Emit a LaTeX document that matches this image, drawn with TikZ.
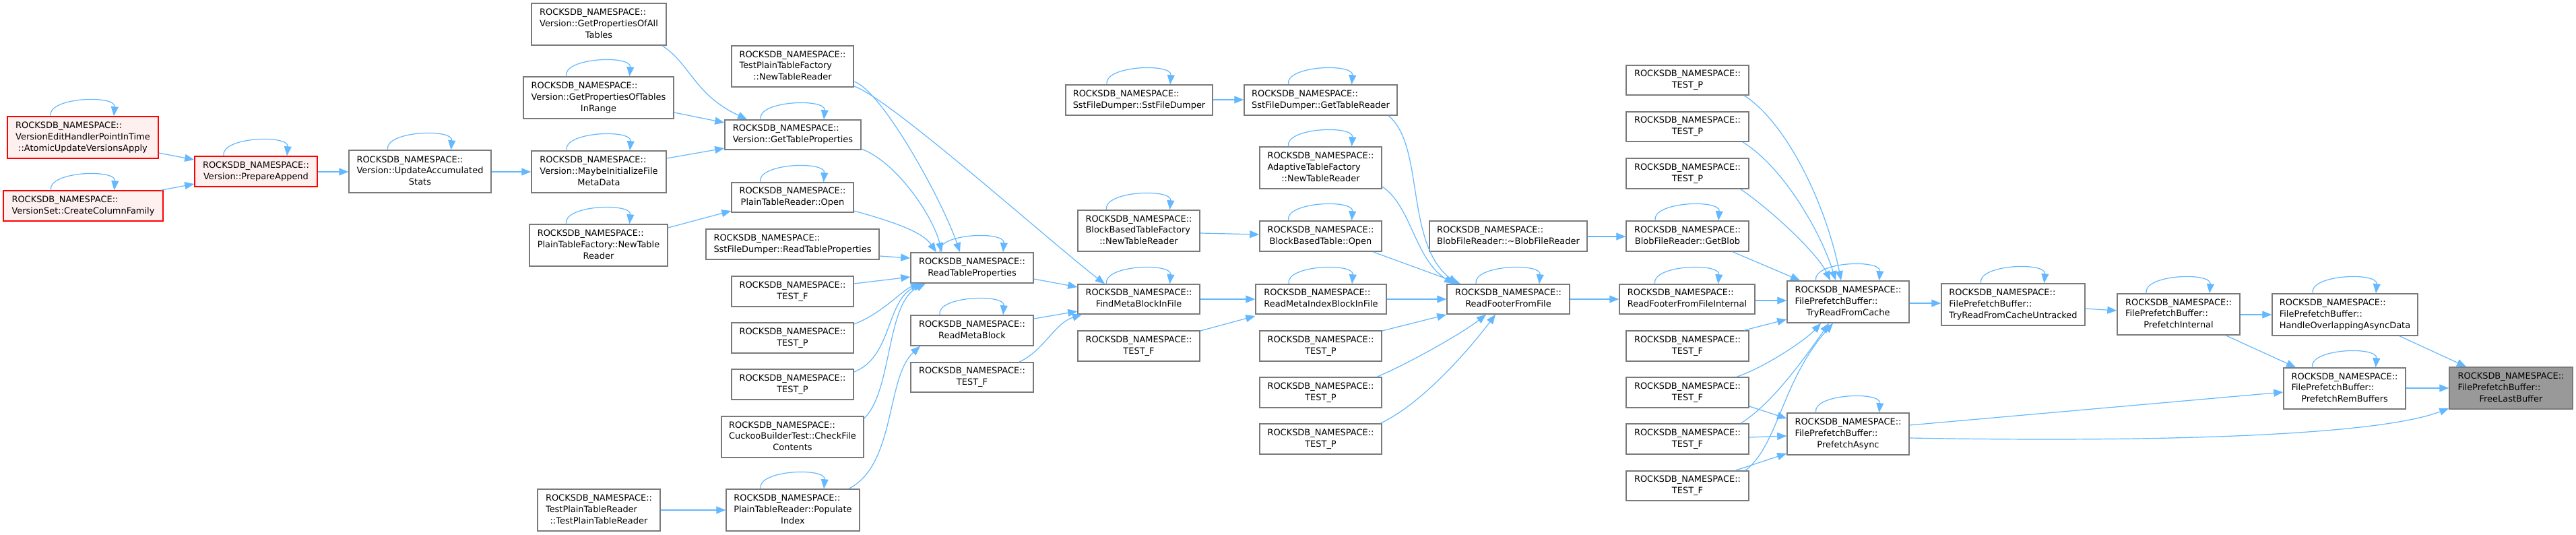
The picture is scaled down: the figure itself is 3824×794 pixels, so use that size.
\documentclass[tikz,border=0pt]{standalone}
\usepackage{fontspec}
\setmainfont{DejaVu Sans}
\usetikzlibrary{arrows.meta}
\definecolor{edgeblue}{HTML}{63B8FF}
\definecolor{boxgrey}{HTML}{7A7A7A}
\definecolor{pinkfill}{HTML}{FFF0F0}
\definecolor{rootgrey}{HTML}{999999}
\newcommand\RN{ROCKSDB\_NAMESPACE::}
\newcommand\twol[2]{\begin{tabular}{@{}l@{}}#1\\\multicolumn{1}{@{}c@{}}{#2}\end{tabular}}
\newcommand\thrl[3]{\begin{tabular}{@{}l@{}}#1\\#2\\\multicolumn{1}{@{}c@{}}{#3}\end{tabular}}
\newcommand\bx[7]{\node[#1, minimum width={(#5-#3)*1pt}, minimum height={(#6-#4)*1pt}] (#2) at ({(#3+#5)/2},{(#4+#6)/2}) {#7};}
\newcommand\sloop[1]{\draw[conn] ([xshift=-48pt]#1.north) .. controls +(-5pt,28pt) and +(3pt,32pt) .. ([xshift=46pt]#1.north);}
\tikzset{
  nbox/.style={draw=boxgrey, fill=white, line width=1.5pt, inner sep=0pt, font=\fontsize{12.95}{16.7}\selectfont},
  rbox/.style={nbox, draw=red, fill=pinkfill},
  gbox/.style={nbox, draw=boxgrey, fill=rootgrey},
  conn/.style={draw=edgeblue, line width=1.2pt, -{Triangle[length=14pt,width=11pt]}}
}
\begin{document}
\begin{tikzpicture}[x=1pt,y=-1pt]
\useasboundingbox[fill=white] (0,0) rectangle (3824,794);
% nodes
\bx{rbox}{veh}{11}{173}{235}{235}{\thrl{\RN}{VersionEditHandlerPointInTime}{::AtomicUpdateVersionsApply}}
\bx{rbox}{ccf}{5}{283}{242}{328}{\twol{\RN}{VersionSet::CreateColumnFamily}}
\bx{rbox}{pa}{289}{232}{471}{277}{\twol{\RN}{Version::PrepareAppend}}
\bx{nbox}{uas}{518}{223}{729}{286}{\thrl{\RN}{Version::UpdateAccumulated}{Stats}}
\bx{nbox}{gpoat}{789}{5}{989}{67}{\thrl{\RN}{Version::GetPropertiesOfAll}{Tables}}
\bx{nbox}{gpotir}{777}{114}{1000}{176}{\thrl{\RN}{Version::GetPropertiesOfTables}{InRange}}
\bx{nbox}{mifmd}{789}{224}{989}{286}{\thrl{\RN}{Version::MaybeInitializeFile}{MetaData}}
\bx{nbox}{ptfntr}{786}{333}{991}{395}{\thrl{\RN}{PlainTableFactory::NewTable}{Reader}}
\bx{nbox}{tptf}{1086}{68}{1267}{129}{\thrl{\RN}{TestPlainTableFactory}{::NewTableReader}}
\bx{nbox}{gtp}{1076}{178}{1278}{222}{\twol{\RN}{Version::GetTableProperties}}
\bx{nbox}{ptro}{1086}{271}{1267}{315}{\twol{\RN}{PlainTableReader::Open}}
\bx{nbox}{sfdrtp}{1048}{340}{1305}{385}{\twol{\RN}{SstFileDumper::ReadTableProperties}}
\bx{nbox}{tf5}{1086}{410}{1267}{455}{\twol{\RN}{TEST\_F}}
\bx{nbox}{tp5a}{1086}{479}{1267}{524}{\twol{\RN}{TEST\_P}}
\bx{nbox}{tp5b}{1086}{548}{1267}{593}{\twol{\RN}{TEST\_P}}
\bx{nbox}{cuckoo}{1071}{618}{1282}{679}{\thrl{\RN}{CuckooBuilderTest::CheckFile}{Contents}}
\bx{nbox}{tptr}{798}{726}{980}{788}{\thrl{\RN}{TestPlainTableReader}{::TestPlainTableReader}}
\bx{nbox}{popidx}{1078}{726}{1276}{788}{\thrl{\RN}{PlainTableReader::Populate}{Index}}
\bx{nbox}{rtp}{1352}{375}{1534}{420}{\twol{\RN}{ReadTableProperties}}
\bx{nbox}{rmb}{1352}{468}{1534}{513}{\twol{\RN}{ReadMetaBlock}}
\bx{nbox}{tf6}{1352}{538}{1534}{582}{\twol{\RN}{TEST\_F}}
\bx{nbox}{sfdsfd}{1582}{126}{1800}{171}{\twol{\RN}{SstFileDumper::SstFileDumper}}
\bx{nbox}{bbtf}{1600}{312}{1781}{373}{\thrl{\RN}{BlockBasedTableFactory}{::NewTableReader}}
\bx{nbox}{fmbif}{1600}{422}{1781}{466}{\twol{\RN}{FindMetaBlockInFile}}
\bx{nbox}{tf7}{1600}{491}{1781}{536}{\twol{\RN}{TEST\_F}}
\bx{nbox}{gtr}{1847}{126}{2074}{171}{\twol{\RN}{SstFileDumper::GetTableReader}}
\bx{nbox}{atf}{1870}{218}{2051}{280}{\thrl{\RN}{AdaptiveTableFactory}{::NewTableReader}}
\bx{nbox}{bbto}{1870}{328}{2051}{373}{\twol{\RN}{BlockBasedTable::Open}}
\bx{nbox}{rmibif}{1864}{422}{2058}{466}{\twol{\RN}{ReadMetaIndexBlockInFile}}
\bx{nbox}{tp8a}{1870}{491}{2051}{536}{\twol{\RN}{TEST\_P}}
\bx{nbox}{tp8b}{1870}{560}{2051}{605}{\twol{\RN}{TEST\_P}}
\bx{nbox}{tp8c}{1870}{629}{2051}{674}{\twol{\RN}{TEST\_P}}
\bx{nbox}{bfrd}{2122}{328}{2356}{373}{\twol{\RN}{BlobFileReader::\textasciitilde BlobFileReader}}
\bx{nbox}{rfff}{2148}{422}{2330}{466}{\twol{\RN}{ReadFooterFromFile}}
\bx{nbox}{tp10a}{2414}{97}{2596}{141}{\twol{\RN}{TEST\_P}}
\bx{nbox}{tp10b}{2414}{166}{2596}{210}{\twol{\RN}{TEST\_P}}
\bx{nbox}{tp10c}{2414}{235}{2596}{280}{\twol{\RN}{TEST\_P}}
\bx{nbox}{gblob}{2414}{328}{2596}{373}{\twol{\RN}{BlobFileReader::GetBlob}}
\bx{nbox}{rfffi}{2404}{422}{2605}{466}{\twol{\RN}{ReadFooterFromFileInternal}}
\bx{nbox}{tf10a}{2414}{491}{2596}{536}{\twol{\RN}{TEST\_F}}
\bx{nbox}{tf10b}{2414}{560}{2596}{605}{\twol{\RN}{TEST\_F}}
\bx{nbox}{tf10c}{2414}{629}{2596}{674}{\twol{\RN}{TEST\_F}}
\bx{nbox}{tf10d}{2414}{699}{2596}{743}{\twol{\RN}{TEST\_F}}
\bx{nbox}{trfc}{2653}{417}{2834}{479}{\thrl{\RN}{FilePrefetchBuffer::}{TryReadFromCache}}
\bx{nbox}{pasync}{2653}{613}{2834}{675}{\thrl{\RN}{FilePrefetchBuffer::}{PrefetchAsync}}
\bx{nbox}{trfcu}{2882}{421}{3095}{483}{\thrl{\RN}{FilePrefetchBuffer::}{TryReadFromCacheUntracked}}
\bx{nbox}{pint}{3143}{436}{3325}{497}{\thrl{\RN}{FilePrefetchBuffer::}{PrefetchInternal}}
\bx{nbox}{hoad}{3373}{436}{3589}{498}{\thrl{\RN}{FilePrefetchBuffer::}{HandleOverlappingAsyncData}}
\bx{nbox}{prb}{3390}{546}{3571}{607}{\thrl{\RN}{FilePrefetchBuffer::}{PrefetchRemBuffers}}
\bx{gbox}{flb}{3636}{545}{3819}{607}{\thrl{\RN}{FilePrefetchBuffer::}{FreeLastBuffer}}
% self loops
\foreach \n in {veh,ccf,pa,uas,gpotir,mifmd,ptfntr,gtp,ptro,popidx,rtp,rmb,sfdsfd,bbtf,fmbif,gtr,atf,bbto,rmibif,rfff,gblob,rfffi,trfc,pasync,trfcu,pint,hoad,prb}{\sloop{\n}}
% edges
\draw[conn] (veh.east |- 0,227) -- (pa.west |- 0,237);
\draw[conn] (ccf.north -| 239,0) -- (pa.west |- 0,273);
\draw[conn] (pa.east |- 0,255) -- (uas.west |- 0,255);
\draw[conn] (uas.east |- 0,255) -- (mifmd.west |- 0,255);
\draw[conn] (mifmd.east |- 0,235) -- (gtp.west |- 0,220);
\draw[conn] (gpoat.south -| 983,0) .. controls (1025,95) and (1030,140) .. (gtp.north -| 1109,0);
\draw[conn] (gpotir.east |- 0,167) -- (gtp.west |- 0,182);
\draw[conn] (ptfntr.east |- 0,338) -- (ptro.west |- 0,313);
\draw[conn] (tptr.east |- 0,757) -- (popidx.west |- 0,757);
\draw[conn] (gtp.east |- 0,221) .. controls (1330,240) and (1385,320) .. (rtp.north -| 1398,0);
\draw[conn] (ptro.east |- 0,313) .. controls (1330,330) and (1370,345) .. (rtp.north -| 1390,0);
\draw[conn] (tptf.east |- 0,121) .. controls (1310,135) and (1400,300) .. (rtp.north -| 1425,0);
\draw[conn] (tptf.east |- 0,128) .. controls (1320,145) and (1560,360) .. (fmbif.north -| 1640,0);
\draw[conn] (sfdrtp.east |- 0,380) -- (rtp.west |- 0,383);
\draw[conn] (tf5.east |- 0,421) -- (rtp.west |- 0,411);
\draw[conn] (tp5a.east |- 0,481) .. controls (1310,465) and (1340,430) .. (rtp.south -| 1366,0);
\draw[conn] (tp5b.east |- 0,552) .. controls (1325,530) and (1315,445) .. (rtp.south -| 1370,0);
\draw[conn] (cuckoo.east |- 0,621) .. controls (1325,580) and (1315,450) .. (rtp.south -| 1374,0);
\draw[conn] (popidx.north -| 1260,0) .. controls (1330,690) and (1315,560) .. (rmb.south -| 1366,0);
\draw[conn] (rtp.east |- 0,414) -- (fmbif.west |- 0,426);
\draw[conn] (rmb.east |- 0,473) -- (fmbif.west |- 0,462);
\draw[conn] (tf6.north -| 1513,0) .. controls (1550,520) and (1565,480) .. (fmbif.south -| 1606,0);
\draw[conn] (fmbif.east |- 0,444) -- (rmibif.west |- 0,444);
\draw[conn] (tf7.east |- 0,491) -- (rmibif.west |- 0,469);
\draw[conn] (sfdsfd.east |- 0,148) -- (gtr.west |- 0,148);
\draw[conn] (bbtf.east |- 0,346) -- (bbto.west |- 0,348);
\draw[conn] (rmibif.east |- 0,444) -- (rfff.west |- 0,444);
\draw[conn] (tp8a.east |- 0,491) -- (rfff.west |- 0,467);
\draw[conn] (tp8b.north -| 2044,0) .. controls (2090,540) and (2170,495) .. (rfff.south -| 2206,0);
\draw[conn] (tp8c.north -| 2049,0) .. controls (2110,600) and (2180,520) .. (rfff.south -| 2220,0);
\draw[conn] (gtr.south -| 2061,0) .. controls (2115,215) and (2085,360) .. (rfff.north -| 2163,0);
\draw[conn] (atf.east |- 0,277) .. controls (2095,305) and (2100,385) .. (rfff.north -| 2158,0);
\draw[conn] (bbto.south -| 2038,0) -- (rfff.north -| 2168,0);
\draw[conn] (rfff.east |- 0,444) -- (rfffi.west |- 0,444);
\draw[conn] (rfffi.east |- 0,446) -- (trfc.west |- 0,446);
\draw[conn] (bfrd.east |- 0,351) -- (gblob.west |- 0,351);
\draw[conn] (gblob.south -| 2572,0) -- (trfc.north -| 2672,0);
\draw[conn] (tp10a.south -| 2589,0) .. controls (2650,180) and (2710,300) .. (trfc.north -| 2733,0);
\draw[conn] (tp10b.south -| 2587,0) .. controls (2650,250) and (2705,350) .. (trfc.north -| 2725,0);
\draw[conn] (tp10c.south -| 2584,0) .. controls (2640,320) and (2700,380) .. (trfc.north -| 2717,0);
\draw[conn] (tf10a.north -| 2589,0) -- (trfc.west |- 0,474);
\draw[conn] (tf10b.north -| 2578,0) .. controls (2620,545) and (2680,505) .. (trfc.south -| 2703,0);
\draw[conn] (tf10b.east |- 0,603) -- (pasync.west |- 0,621);
\draw[conn] (tf10c.north -| 2584,0) .. controls (2630,600) and (2680,530) .. (trfc.south -| 2715,0);
\draw[conn] (tf10c.east |- 0,649) -- (pasync.west |- 0,647);
\draw[conn] (tf10d.north -| 2576,0) -- (pasync.west |- 0,673);
\draw[conn] (tf10d.north -| 2591,0) .. controls (2640,660) and (2645,565) .. (trfc.south -| 2721,0);
\draw[conn] (trfc.east |- 0,450) -- (trfcu.west |- 0,450);
\draw[conn] (trfcu.east |- 0,458) -- (pint.west |- 0,461);
\draw[conn] (pint.east |- 0,467) -- (hoad.west |- 0,467);
\draw[conn] (pint.south -| 3304,0) -- (prb.north -| 3408,0);
\draw[conn] (hoad.south -| 3562,0) -- (flb.north -| 3661,0);
\draw[conn] (prb.east |- 0,576) -- (flb.west |- 0,576);
\draw[conn] (pasync.east |- 0,631) -- (prb.west |- 0,582);
\draw[conn] (pasync.east |- 0,650) .. controls (3150,656) and (3520,650) .. (flb.west |- 0,606);
\end{tikzpicture}
\end{document}
